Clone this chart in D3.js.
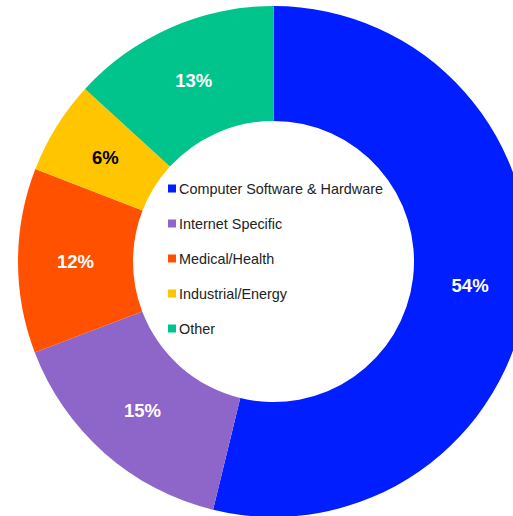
<!DOCTYPE html>
<html>
<head>
<meta charset="utf-8">
<script src="https://cdn.jsdelivr.net/npm/d3@7"></script>
<style>
  body { margin: 0; background: #fff; }
  svg { display: block; }
</style>
</head>
<body>
<svg id="chart"></svg>
<script>
const categories = ["Computer Software & Hardware", "Internet Specific", "Medical/Health", "Industrial/Energy", "Other"];
const shares = [53.8, 15.4, 11.7, 5.9, 13.2];
const colors = ["#001EFF", "#8E65C9", "#FF5100", "#FFC600", "#00C48C"];
const labelColors = ["#fff", "#fff", "#fff", "#000", "#fff"];

const width = 513,
      height = 516,
      outer = 255.5,
      inner = 140.5,
      svg = d3.select("#chart")
              .attr("width", width)
              .attr("height", height),
      g = svg.append("g")
            .attr("transform", `translate(${[273.5, 261.5]})`);

const data = categories.map((c, i) => ({ name: c, value: shares[i], color: colors[i], label: labelColors[i] }));

const pie = d3.pie()
    .sort(null)
    .value((d) => d.value);

const arc = d3.arc()
    .outerRadius(outer)
    .innerRadius(inner);

const total = d3.sum(shares);

const slice = g.selectAll(".arc")
    .data(pie(data))
    .enter().append("g")
        .attr("class", "arc");

slice.append("path")
    .attr("d", arc)
    .attr("fill", (d) => d.data.color);

slice.append("text")
    .attr("transform", (d) => `translate(${arc.centroid(d)})`)
    .attr("dy", "0.36em")
    .attr("text-anchor", "middle")
    .style("font", "bold 18.5px 'Liberation Sans', Arial, sans-serif")
    .attr("fill", (d) => d.data.label)
    .text((d) => d3.format(".0%")(d.data.value / total));

// legend inside the hole
const legend = svg.append("g")
    .attr("transform", "translate(168, 189)");

const item = legend.selectAll(".item")
    .data(data)
    .enter().append("g")
        .attr("class", "item")
        .attr("transform", (d, i) => `translate(0, ${i * 35})`);

item.append("rect")
    .attr("x", 0)
    .attr("y", -4.5)
    .attr("width", 8)
    .attr("height", 8)
    .attr("fill", (d) => d.color);

item.append("text")
    .attr("x", 11)
    .attr("y", 0)
    .attr("dy", "0.35em")
    .style("font", "14.4px 'Liberation Sans', Arial, sans-serif")
    .attr("fill", "#222")
    .text((d) => d.name);
</script>
</body>
</html>
